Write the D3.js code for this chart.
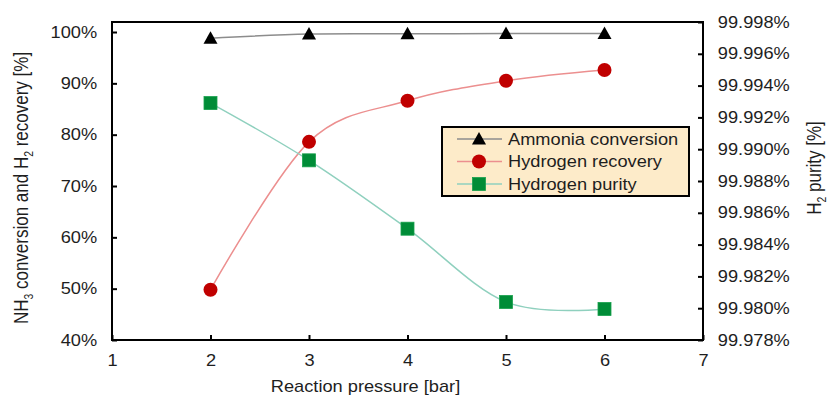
<!DOCTYPE html>
<html>
<head>
<meta charset="utf-8">
<script src="https://cdn.jsdelivr.net/npm/d3@7"></script>
<style>
  body { margin: 0; background: #fff; }
  svg text { font-family: "Liberation Sans", Arial, sans-serif; fill: #1e1e1e; }
</style>
</head>
<body>
<div id="chart"></div>
<script>
// pressure [bar]
const pressures = [2, 3, 4, 5, 6];
// left axis, %
const ammoniaConversion = [98.8, 99.6, 99.65, 99.7, 99.7];
const hydrogenRecovery = [49.8, 78.6, 86.6, 90.5, 92.6];
// right axis, %
const hydrogenPurity = [99.9929, 99.9893, 99.9850, 99.98039, 99.97995];

const xTicks = [1, 2, 3, 4, 5, 6, 7];
const leftTicks = [40, 50, 60, 70, 80, 90, 100];
const rightTicks = [99.978, 99.980, 99.982, 99.984, 99.986, 99.988, 99.990, 99.992, 99.994, 99.996, 99.998];

const W = 830, H = 399;
const margin = { top: 22, right: 127, bottom: 59, left: 112 };
const width = W - margin.left - margin.right;
const height = H - margin.top - margin.bottom;
const FS = 16;           // font size
const SX = 1.14;         // horizontal stretch of the source text

const svg = d3.select('#chart').append('svg')
  .attr('width', W).attr('height', H);

const g = svg.append('g')
  .attr('transform', 'translate(' + margin.left + ',' + margin.top + ')');

const x = d3.scaleLinear().domain([1, 7]).range([0, width]);
const yL = d3.scaleLinear().domain([40, 101.95]).range([height, 0]);
const yR = d3.scaleLinear().domain([99.978, 99.998]).range([height, 0]);

function styleAxis(sel) {
  sel.select('.domain').remove();
  sel.selectAll('line').attr('stroke', '#000').attr('stroke-width', 2);
  sel.selectAll('text')
    .attr('font-size', FS)
    .attr('transform', 'scale(' + SX + ',1)');
}

g.append('g')
  .call(d3.axisLeft(yL).tickValues(leftTicks).tickSizeInner(-5).tickSizeOuter(0)
    .tickPadding(13).tickFormat(d => d + '%'))
  .call(styleAxis);

g.append('g')
  .attr('transform', 'translate(' + width + ',0)')
  .call(d3.axisRight(yR).tickValues(rightTicks).tickSizeInner(-5).tickSizeOuter(0)
    .tickPadding(13).tickFormat(d => d3.format('.3f')(d) + '%'))
  .call(styleAxis);

g.append('g')
  .attr('transform', 'translate(0,' + height + ')')
  .call(d3.axisBottom(x).tickValues(xTicks).tickSizeInner(-5).tickSizeOuter(0)
    .tickPadding(15).tickFormat(d3.format('d')))
  .call(styleAxis);

// frame
g.append('rect')
  .attr('width', width).attr('height', height)
  .attr('fill', 'none').attr('stroke', '#000').attr('stroke-width', 2);

const curve = d3.curveCardinal.tension(0);

const series = [
  { name: 'Ammonia conversion', values: ammoniaConversion, y: yL, line: '#8c8c8c', fill: '#000', shape: 'tri' },
  { name: 'Hydrogen recovery', values: hydrogenRecovery, y: yL, line: '#ec8f8f', fill: '#c00000', shape: 'circ' },
  { name: 'Hydrogen purity', values: hydrogenPurity, y: yR, line: '#8fd0be', fill: '#008c37', shape: 'sq' }
];

function marker(sel, s) {
  if (s.shape === 'tri') {
    sel.append('path').attr('d', 'M0,-7L7,5.5L-7,5.5Z').attr('fill', s.fill);
  } else if (s.shape === 'circ') {
    sel.append('circle').attr('r', 7).attr('fill', s.fill);
  } else {
    sel.append('rect').attr('x', -6.5).attr('y', -6.5).attr('width', 13).attr('height', 13)
      .attr('fill', s.fill).attr('stroke', '#17a04c').attr('stroke-width', 0.8);
  }
}

series.forEach(s => {
  const line = d3.line().x((d, i) => x(pressures[i])).y(d => s.y(d)).curve(curve);
  g.append('path').datum(s.values)
    .attr('d', line).attr('fill', 'none')
    .attr('stroke', s.line).attr('stroke-width', 1.5);
});
series.forEach(s => {
  g.selectAll(null).data(s.values).enter().append('g')
    .attr('transform', (d, i) => 'translate(' + x(pressures[i]) + ',' + s.y(d) + ')')
    .each(function () { marker(d3.select(this), s); });
});

// legend
const lg = g.append('g').attr('transform', 'translate(' + (442 - margin.left) + ',' + (127 - margin.top) + ')');
lg.append('rect').attr('width', 247).attr('height', 69)
  .attr('fill', '#fdebc9').attr('stroke', '#000').attr('stroke-width', 2);
series.forEach((s, i) => {
  const row = lg.append('g').attr('transform', 'translate(0,' + (12 + i * 22.5) + ')');
  row.append('line').attr('x1', 15).attr('x2', 60).attr('stroke', s.line).attr('stroke-width', 1.5);
  const m = row.append('g').attr('transform', 'translate(37,0)');
  marker(m, s);
  row.append('text').attr('x', 66 / SX).attr('dy', '0.35em')
    .attr('font-size', FS).attr('transform', 'scale(' + SX + ',1)')
    .text(s.name);
});

// axis titles
svg.append('text')
  .attr('transform', 'translate(' + ((margin.left + margin.left + width) / 2 - 42) + ',392) scale(' + SX + ',1)')
  .attr('text-anchor', 'middle').attr('font-size', FS)
  .text('Reaction pressure [bar]');

function subTitle(t, parts) {
  parts.forEach(p => {
    const ts = t.append('tspan').text(p[0]);
    if (p[1]) ts.attr('font-size', FS * 0.65).attr('dy', 4);
    else if (p[2]) ts.attr('dy', -4);
  });
}

const lt = svg.append('text')
  .attr('transform', 'translate(28,188) rotate(-90) scale(1,' + SX + ')')
  .attr('text-anchor', 'middle').attr('font-size', FS + 1);
subTitle(lt, [['NH'], ['3', true], [' conversion and H', false, true], ['2', true], [' recovery [%]', false, true]]);

const rt = svg.append('text')
  .attr('transform', 'translate(821,168) rotate(-90) scale(1,' + SX + ')')
  .attr('text-anchor', 'middle').attr('font-size', FS + 1);
subTitle(rt, [['H'], ['2', true], [' purity [%]', false, true]]);
</script>
</body>
</html>
